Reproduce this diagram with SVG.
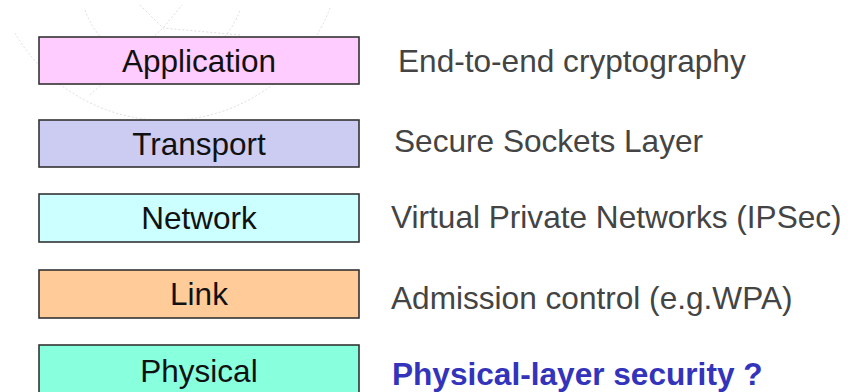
<svg xmlns="http://www.w3.org/2000/svg" width="854" height="392" viewBox="0 0 854 392">
<style>
.box{stroke:#333;stroke-width:1.6}
.lbl{font-family:"Liberation Sans",Arial,sans-serif;font-size:31.5px;fill:#111;text-anchor:middle}
.desc{font-family:"Liberation Sans",Arial,sans-serif;font-size:31.6px;fill:#444}
.wm{fill:none;stroke:#dedede;stroke-width:1;stroke-dasharray:2 2}
</style>
<rect width="854" height="392" fill="#fff"/>
<g id="watermark">
<path class="wm" d="M15,33 A175,175 0 0 0 330,8"/>
<path class="wm" d="M85,10 A82,82 0 0 0 240,10"/>
<path class="wm" d="M90,95 L163,28 L182,5"/>
<path class="wm" d="M140,5 L163,28 L240,35"/>
</g>
<g id="application"><rect class="box" x="39" y="37" width="320" height="47" fill="#ffccff"/><text class="lbl" x="199" y="72">Application</text></g>
<g id="transport"><rect class="box" x="39" y="120" width="320" height="47" fill="#ccccf2"/><text class="lbl" x="199" y="155">Transport</text></g>
<g id="network"><rect class="box" x="39" y="194" width="320" height="48" fill="#ccffff"/><text class="lbl" x="199" y="229">Network</text></g>
<g id="link"><rect class="box" x="39" y="270" width="320" height="48" fill="#ffcc99"/><text class="lbl" x="199" y="305">Link</text></g>
<g id="physical"><rect class="box" x="39" y="345" width="320" height="60" fill="#88ffdd"/><text class="lbl" x="199" y="382">Physical</text></g>
<g id="connectors"></g>
<g id="descriptions">
<text class="desc" x="398" y="72">End-to-end cryptography</text>
<text class="desc" x="394" y="152">Secure Sockets Layer</text>
<text class="desc" x="391" y="228">Virtual Private Networks (IPSec)</text>
<text class="desc" x="391" y="309">Admission control (e.g.WPA)</text>
<text class="desc" x="392" y="385" style="font-weight:bold;fill:#3333bb">Physical-layer security ?</text>
</g>
</svg>
